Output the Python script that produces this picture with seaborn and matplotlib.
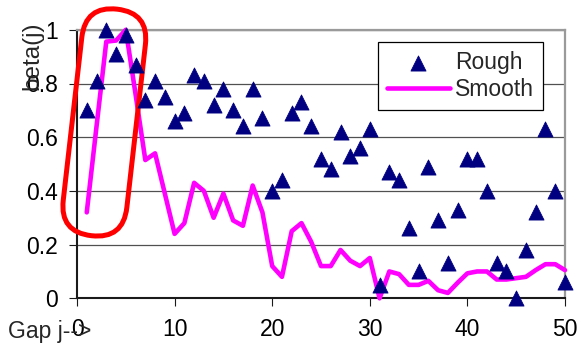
import matplotlib
matplotlib.use("Agg")
import matplotlib.pyplot as plt
from matplotlib.patches import FancyBboxPatch
from matplotlib.transforms import Affine2D, ScaledTranslation
import pandas as pd
import seaborn as sns

# Gap index j and the two beta(j) estimates
gap = list(range(1, 51))
rough = [0.70, 0.81, 1.00, 0.91, 0.98, 0.87, 0.74, 0.81, 0.75, 0.66,
         0.69, 0.83, 0.81, 0.72, 0.78, 0.70, 0.64, 0.78, 0.67, 0.40,
         0.44, 0.69, 0.73, 0.64, 0.52, 0.48, 0.62, 0.53, 0.56, 0.63,
         0.05, 0.47, 0.44, 0.26, 0.10, 0.49, 0.29, 0.13, 0.33, 0.52,
         0.52, 0.40, 0.13, 0.10, 0.00, 0.18, 0.32, 0.63, 0.40, 0.06]
smooth = [0.32, 0.64, 0.956, 0.96, 1.00, 0.76, 0.515, 0.54, 0.39, 0.24,
          0.28, 0.43, 0.40, 0.30, 0.39, 0.29, 0.27, 0.42, 0.32, 0.12,
          0.08, 0.25, 0.28, 0.21, 0.12, 0.12, 0.18, 0.14, 0.12, 0.15,
          0.00, 0.10, 0.09, 0.05, 0.05, 0.065, 0.03, 0.02, 0.058, 0.093,
          0.10, 0.10, 0.07, 0.07, 0.075, 0.08, 0.105, 0.127, 0.127, 0.105]
series_names = ["Rough", "Smooth"]
x_ticks = [0, 10, 20, 30, 40, 50]
y_ticks = [0, 0.2, 0.4, 0.6, 0.8, 1.0]
y_tick_labels = ["0", "0.2", "0.4", "0.6", "0.8", "1"]
x_title = "Gap j-->"
y_title = "beta(j)"

# highlighted region around the first gaps (centre in data units)
highlight_center = (2.8, 0.655)

NAVY = "#000080"
MAGENTA = "#FF00FF"
FS = 16.5

df = pd.DataFrame({"j": gap, series_names[0]: rough, series_names[1]: smooth})

sns.set_style("white")
plt.rcParams["font.family"] = ["Liberation Sans", "DejaVu Sans"]

fig = plt.figure(figsize=(5.8, 3.43), dpi=100)
ax = fig.add_axes([77 / 580, 1 - 298.3 / 343, 488 / 580, 268.5 / 343])

sns.scatterplot(data=df, x="j", y=series_names[0], marker="^", s=118,
                color=NAVY, edgecolor=NAVY, linewidth=0.6,
                label=series_names[0], zorder=5, clip_on=False, ax=ax)
sns.lineplot(data=df, x="j", y=series_names[1], color=MAGENTA,
             linewidth=3.3, label=series_names[1], zorder=3, clip_on=False,
             solid_joinstyle="round", solid_capstyle="round", ax=ax)

ax.set_xlim(0, 50)
ax.set_ylim(0, 1)
ax.set_xticks(x_ticks)
ax.set_yticks(y_ticks)
ax.set_yticklabels(y_tick_labels)

ax.grid(axis="y", color="#505050", linewidth=0.9)
ax.grid(axis="x", visible=False)
ax.set_axisbelow(True)

for side in ("left", "bottom"):
    ax.spines[side].set_color("#1a1a1a")
    ax.spines[side].set_linewidth(1.5)
for side in ("top", "right"):
    ax.spines[side].set_color("#9a9a9a")
    ax.spines[side].set_linewidth(1.6)

ax.tick_params(axis="both", which="major", direction="out", length=6,
               width=0.8, color="#1a1a1a", labelsize=FS, labelcolor="black",
               bottom=True, left=True)
ax.tick_params(axis="x", pad=8.5)
ax.tick_params(axis="y", pad=8)

ax.set_xlabel(x_title, fontsize=FS, ha="left")
ax.xaxis.set_label_coords(-0.1414, -0.080)
ax.set_ylabel(y_title, fontsize=17.5)
ax.yaxis.set_label_coords(-0.068, 0.905)

leg = ax.legend(loc="upper left", bbox_to_anchor=(378 / 580, 1 - 42 / 343),
                bbox_transform=fig.transFigure, frameon=True, fancybox=False,
                edgecolor="black", framealpha=1, borderaxespad=0,
                fontsize=FS, handlelength=2.75, handletextpad=0.25,
                labelspacing=0.2, borderpad=0.38)
leg.get_frame().set_linewidth(0.9)

# red capsule drawn around the first few gaps (size in inches)
cap_w, cap_h = 0.64, 2.28
capsule = FancyBboxPatch((-cap_w / 2, -cap_h / 2), cap_w, cap_h,
                         boxstyle=f"round,pad=0,rounding_size={cap_w / 2}",
                         fill=False, edgecolor="#FF0000", linewidth=3.6,
                         zorder=4, clip_on=False,
                         transform=Affine2D().rotate_deg(-6.5)
                         + fig.dpi_scale_trans
                         + ScaledTranslation(*highlight_center, ax.transData))
ax.add_patch(capsule)

fig.savefig("out.png", dpi=100)
